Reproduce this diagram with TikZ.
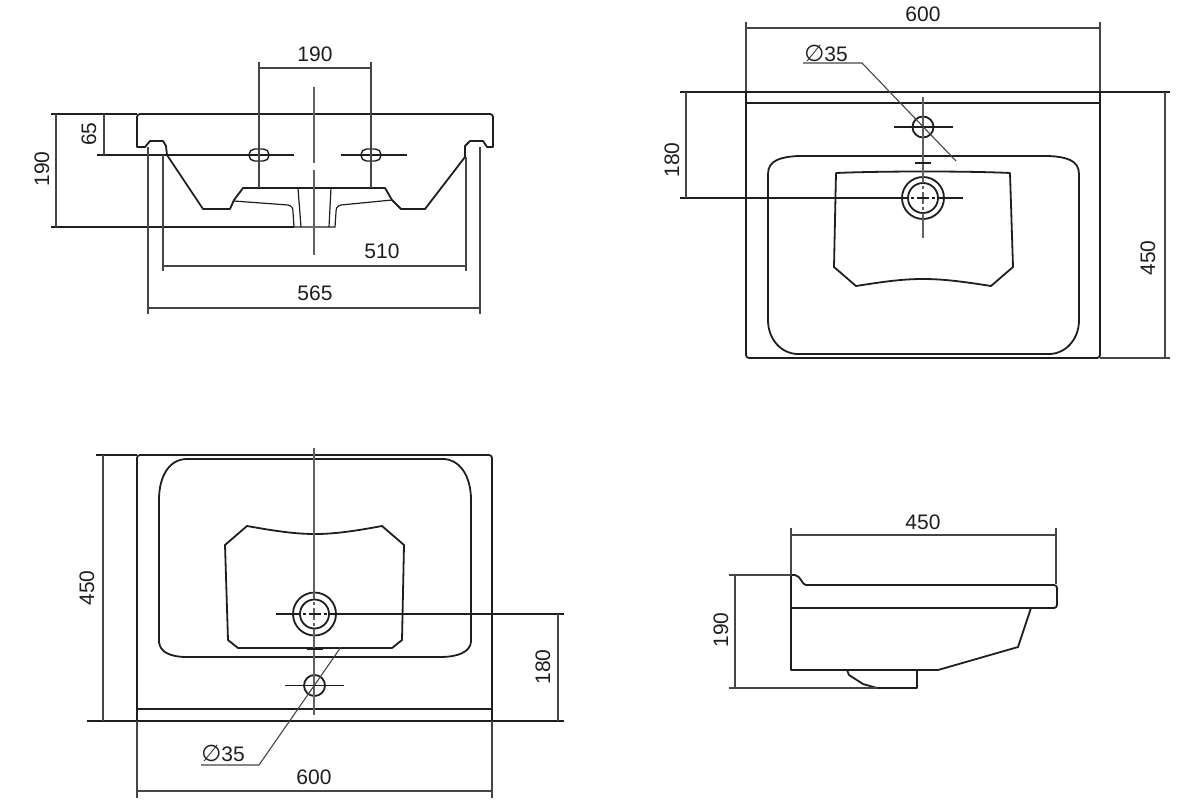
\documentclass[tikz,border=0pt]{standalone}
\usepackage{fontspec}
\setmainfont{Liberation Sans}
\newfontfamily\symbolfont{DejaVu Sans}
\usetikzlibrary{calc}
\definecolor{inkline}{HTML}{1E1E1E}
\definecolor{dimline}{HTML}{454545}
\tikzset{
  outline/.style={draw=inkline,line width=1.8pt,line join=round},
  thinline/.style={draw=inkline,line width=1.2pt},
  dimension/.style={draw=dimline,line width=1.1pt},
  axis/.style={draw=inkline,line width=1.1pt},
  softaxis/.style={draw=dimline!85,line width=1.2pt},
  dimlabel/.style={font=\fontsize{21}{21}\selectfont,text=inkline,inner sep=0pt}
}
\newcommand{\holesym}{{\symbolfont\fontsize{23}{23}\selectfont ∅}}
\begin{document}
\begin{tikzpicture}[x=1pt,y=-1pt]
  \useasboundingbox (0,0) rectangle (1200,800);

  % front view
  \draw[outline] (137,117) arc[start angle=180,end angle=270,radius=3] -- (490,114) arc[start angle=-90,end angle=0,radius=3]
    -- (493,147) -- (487,147) -- (483,141) -- (470,141) -- (465,146) -- (465,157) -- (425,209) -- (401,209)
    -- (392,200) -- (385,188) -- (243,188) -- (234,200) -- (230,209) -- (203,209) -- (167,155) -- (166,146)
    -- (163,141) -- (150,141) -- (145,147) -- (137,147) -- cycle;
  \draw[thinline] (234,201) -- (288,205) .. controls (292,206) and (293,208) .. (293,212) -- (294,227) -- (335,227)
    -- (336,212) .. controls (336,208) and (337,206) .. (341,205) -- (392,200);
  \draw[thinline] (298,188) -- (301,227) (331,188) -- (329,227);
  \draw[outline,line width=1.4pt] (249,155) to[rounded corners=5.5pt] (249,149) to[rounded corners=5.5pt] (269,149) to[rounded corners=5.5pt] (269,161) to[rounded corners=5.5pt] (249,161) -- cycle;
  \draw[outline,line width=1.4pt] (361,155) to[rounded corners=5.5pt] (361,149) to[rounded corners=5.5pt] (381,149) to[rounded corners=5.5pt] (381,161) to[rounded corners=5.5pt] (361,161) -- cycle;
  \draw[softaxis] (314,87) -- (314,163) (314,170) -- (314,255);
  \draw[axis] (97,155) -- (294,155) (341,155) -- (407,155);
  \draw[dimension] (259,62) -- (259,188) (371,62) -- (371,188) (259,68) -- (371,68);
  \draw[axis] (51,114) -- (137,114) (51,227) -- (294,227);
  \draw[dimension] (56,114) -- (56,227) (104,114) -- (104,155);
  \draw[dimension] (163,155) -- (163,271) (466,157) -- (466,271) (163,266) -- (466,266);
  \draw[dimension] (148,147) -- (148,314) (480,147) -- (480,314) (148,308) -- (480,308);
  \node[dimlabel] (front190) at (315,54) {190};
  \node[dimlabel,rotate=90] (frontheight) at (42,169) {190};
  \node[dimlabel,rotate=90] (fronthole) at (89,134) {65};
  \node[dimlabel] (front510) at (382,251) {510};
  \node[dimlabel] (front565) at (315,293) {565};

  % plan, tap hole at the top
  \draw[outline] (746,92) -- (1100,92) -- (1100,355) arc[start angle=0,end angle=90,radius=3] -- (749,358) arc[start angle=90,end angle=180,radius=3] -- cycle;
  \draw[outline] (746,103) -- (1100,103);
  \draw[outline] (798,156) -- (1049,156) .. controls (1066,157) and (1079,160) .. (1079,174) -- (1079,320)
    .. controls (1079,340) and (1065,354) .. (1049,354) -- (798,354) .. controls (782,354) and (768,340) .. (768,320)
    -- (768,174) .. controls (768,160) and (781,157) .. (798,156);
  \draw[outline] (836,173) .. controls (880,171) and (970,171) .. (1010,173) -- (1013,267) -- (991,286)
    .. controls (965,282) and (945,279) .. (923,279) .. controls (901,279) and (882,282) .. (856,286) -- (834,267) -- cycle;
  \draw[outline] (923,127) circle[radius=10.5];
  \draw[outline] (923,198) circle[radius=21];
  \draw[outline] (923,198) circle[radius=15];
  \draw[softaxis] (923,97) -- (923,183) (923,186) -- (923,189) (923,192) -- (923,204) (923,207) -- (923,210) (923,213) -- (923,238);
  \draw[axis] (894,127) -- (953,127) (917,198) -- (929,198) (911,198) -- (914,198) (932,198) -- (935,198);
  \draw[outline,line width=2.4pt] (915,163) -- (931,163);
  \draw[dimension] (746,22) -- (746,92) (1100,22) -- (1100,92) (746,28) -- (1100,28);
  \draw[axis] (680,92) -- (1170,92) (680,198) -- (908,198) (938,198) -- (963,198);
  \draw[dimension] (1100,358) -- (1170,358) (1165,92) -- (1165,358) (686,92) -- (686,198);
  \draw[dimension] (803,63) -- (862,63) -- (956,161);
  \node[dimlabel] (plana600) at (923,14) {600};
  \node[dimlabel] (planahole) at (826,53) {\holesym 35};
  \node[dimlabel,rotate=90] (plana180) at (672,160) {180};
  \node[dimlabel,rotate=90] (plana450) at (1148,258) {450};

  % plan, tap hole at the bottom
  \draw[outline] (137,458) arc[start angle=180,end angle=270,radius=3] -- (489,455) arc[start angle=-90,end angle=0,radius=3] -- (492,721) -- (137,721) -- cycle;
  \draw[outline] (137,709) -- (492,709);
  \draw[outline] (187,459) -- (443,459) .. controls (459,459) and (471,475) .. (471,500) -- (471,642)
    .. controls (470,652) and (458,657) .. (440,657) -- (187,657) .. controls (170,657) and (160,652) .. (159,642)
    -- (159,500) .. controls (159,475) and (170,459) .. (187,459);
  \draw[outline] (247,526) .. controls (275,531) and (295,534) .. (315,534) .. controls (335,534) and (355,531) .. (382,526)
    -- (404,545) -- (402,640) -- (392,648) -- (238,648) -- (228,640) -- (225,545) -- cycle;
  \draw[outline] (314.5,614) circle[radius=21.5];
  \draw[outline] (314.5,614) circle[radius=14.5];
  \draw[outline] (314.5,685.5) circle[radius=10.5];
  \draw[softaxis] (314,448) -- (314,599) (314,602) -- (314,605) (314,608) -- (314,620) (314,623) -- (314,626) (314,629) -- (314,715);
  \draw[axis] (285,685.5) -- (344,685.5) (308.5,614) -- (320.5,614) (302.5,614) -- (305.5,614) (323.5,614) -- (326.5,614);
  \draw[outline,line width=2.4pt] (307,649) -- (323,649);
  \draw[axis] (96,455) -- (137,455) (87,721) -- (564,721) (276,614) -- (300,614) (329,614) -- (564,614);
  \draw[dimension] (103,455) -- (103,721) (558,614) -- (558,721);
  \draw[dimension] (137,721) -- (137,798) (492,721) -- (492,798) (137,791) -- (492,791);
  \draw[dimension] (201,765) -- (259,765) -- (341,647);
  \node[dimlabel] (planb600) at (314,777) {600};
  \node[dimlabel] (planbhole) at (223,753) {\holesym 35};
  \node[dimlabel,rotate=90] (planb450) at (87,588) {450};
  \node[dimlabel,rotate=90] (planb180) at (543,667) {180};

  % side view
  \draw[outline] (791,575) -- (795,575) .. controls (801,576) and (802,585) .. (806,585) -- (1054,585)
    arc[start angle=-90,end angle=0,radius=3] -- (1057,605) arc[start angle=0,end angle=90,radius=3] -- (791,608);
  \draw[outline] (791,575) -- (791,670) -- (938,670) -- (1018,647) -- (1031,608);
  \draw[outline] (847,670) -- (849,675) -- (863,684) -- (877,688) -- (917,688) -- (917,670);
  \draw[dimension] (791,528) -- (791,575) (1056,528) -- (1056,584) (791,535) -- (1056,535);
  \draw[dimension] (729,575) -- (791,575) (729,688) -- (877,688) (735,575) -- (735,688);
  \node[dimlabel] (side450) at (923,522) {450};
  \node[dimlabel,rotate=90] (side190) at (721,630) {190};
\end{tikzpicture}
\end{document}
